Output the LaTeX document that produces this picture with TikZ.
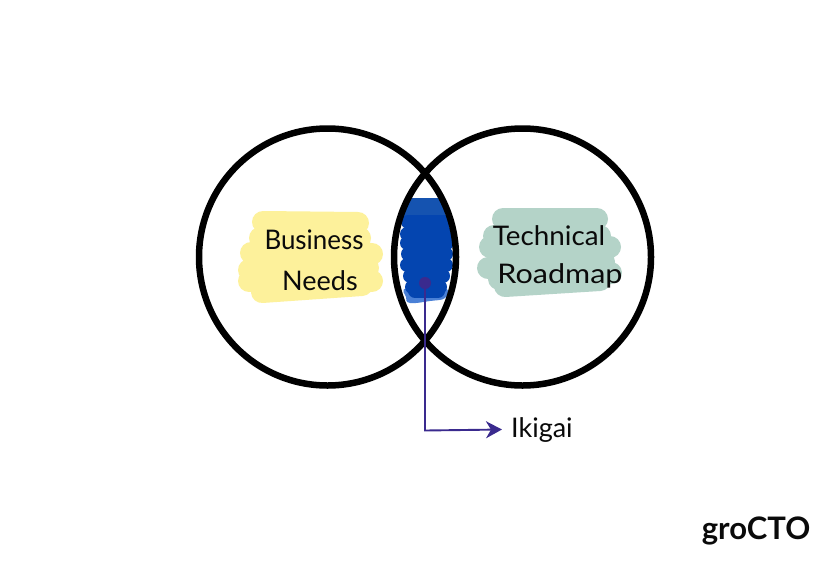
\documentclass[tikz,border=0pt]{standalone}
\usepackage{fontspec}
\setmainfont{Lato}
\usetikzlibrary{arrows.meta}
\definecolor{ylw}{HTML}{FDF19B}
\definecolor{grn}{HTML}{B4D3C8}
\definecolor{bluedark}{HTML}{0445B0}
\definecolor{bluelight}{HTML}{4A80D6}
\definecolor{bluemid}{HTML}{1553B0}
\definecolor{purp}{HTML}{3A2A8E}
\definecolor{ink}{HTML}{0A0A0A}
\tikzset{
  ring/.style={circle,draw=black,line width=6.5pt,minimum size=257pt,inner sep=0pt,fill=none},
  hand/.style={inner sep=0pt,text=ink,font=\fontsize{27}{32}\selectfont},
  bluestroke/.style={line width=14pt,line cap=round,bluedark},
  yblob/.style={line width=22pt,line cap=round,ylw},
  gblob/.style={line width=22pt,line cap=round,grn},
  pointer/.style={purp,line width=1.9pt,-{Stealth[length=16pt,width=17pt,inset=5pt]}},
}
\begin{document}
\begin{tikzpicture}[x=1pt,y=-1pt]
\useasboundingbox (0,0) rectangle (840,560);
\fill[white] (0,0) rectangle (840,560);
% yellow blob
\draw[yblob] (263,222) -- (358,223);
\draw[yblob] (260,238) -- (360,238);
\draw[yblob] (251,253) -- (372,254);
\draw[yblob] (249,270) -- (368,268);
\draw[yblob] (249,281) -- (372,281);
\draw[yblob] (262,292) -- (362,285);
% green blob
\draw[gblob] (503,219) -- (597,219);
\draw[gblob] (494,236) -- (600,236);
\draw[gblob] (490,247) -- (610,247);
\draw[gblob] (488,268) -- (604,262);
\draw[gblob] (499,279) -- (611,273);
\draw[gblob] (505,286) -- (600,280);
% blue scribble
\fill[bluelight] plot[smooth cycle,tension=0.7] coordinates {(407,288)(444,288)(445,298)(430,301)(410,303)(406,297)};
\draw[line width=14pt,line cap=round,bluemid] (412,205) -- (437,205);
\draw[line width=14pt,line cap=round,bluemid] (410,212) -- (439,212);
\draw[bluestroke] (408,222) -- (445,222);
\draw[bluestroke] (407,234) -- (446,234);
\draw[bluestroke] (407,243) -- (447,243);
\draw[bluestroke] (408,254) -- (446,254);
\draw[bluestroke] (407,265) -- (446,265);
\draw[bluestroke] (410,276) -- (443,276);
\draw[bluestroke] (412,287) -- (440,287);
\draw[bluestroke] (415,291) -- (438,291);
% rings
\node[ring] (left) at (327.5,257) {};
\node[ring] (right) at (522.5,257) {};
% labels
\node[hand,xscale=0.96] (business) at (314,240) {Business};
\node[hand] (needs) at (320,281) {Needs};
\node[hand,xscale=1.03] (technical) at (549,236) {Technical};
\node[hand,xscale=1.13] (roadmap) at (560,276) {Roadmap};
\node[hand,anchor=west] (ikigai) at (511,430) {Ikigai};
\node[inner sep=0pt,text=ink,font=\fontsize{31}{36}\selectfont\bfseries] (brand) at (756,531) {groCTO};
% pointer
\coordinate (tip) at (502,429.5);
\node[circle,fill=purp,minimum size=12pt,inner sep=0pt] (dot) at (425,283) {};
\draw[pointer] (dot.center) -- (425,430.5) -- (tip);
\end{tikzpicture}
\end{document}
